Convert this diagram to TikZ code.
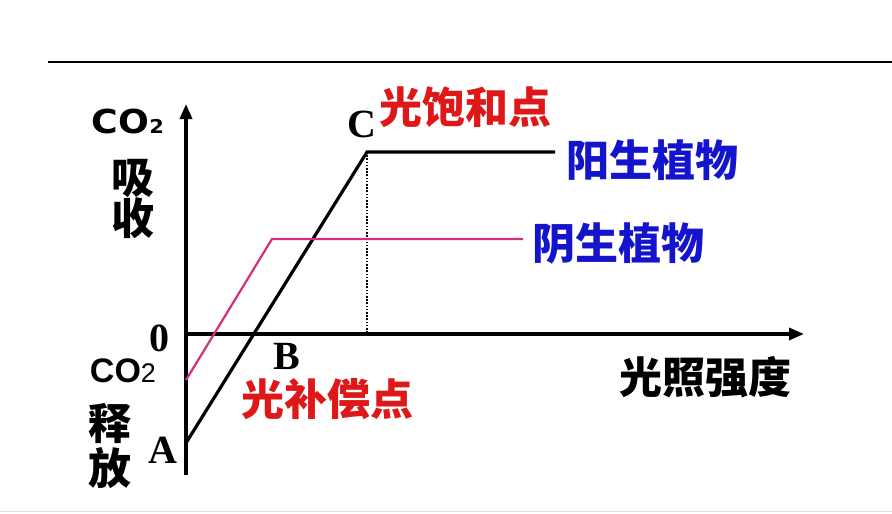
\documentclass[tikz,border=0pt]{standalone}
\usepackage{fontspec}
\setmainfont{Liberation Serif}
\newfontfamily\cjk{Noto Sans CJK SC}
\newfontfamily\arialf{Liberation Sans}
\newfontfamily\heavyf{DejaVu Sans}
\usetikzlibrary{arrows.meta}
\definecolor{redtxt}{RGB}{222,24,24}
\definecolor{bluetxt}{RGB}{20,20,205}
\definecolor{pinkline}{RGB}{215,45,125}
\tikzset{
  axis/.style={line width=3.3pt,-{Triangle[length=15pt,width=12pt]}},
  sunline/.style={line width=3.2pt,line join=miter},
  shadeline/.style={line width=2.2pt,pinkline},
  dotline/.style={line width=2pt,dash pattern=on 1.6pt off 1.6pt},
  cjklab/.style={inner sep=0pt,text height=37pt,text depth=4pt,font=\cjk\bfseries\fontsize{43}{43}\selectfont},
  serlab/.style={inner sep=0pt,text height=27pt,text depth=0pt,font=\bfseries\fontsize{40}{40}\selectfont},
  cotop/.style={inner sep=0pt,xscale=1.1,text height=24pt,text depth=0pt,font=\heavyf\bfseries\fontsize{33}{33}\selectfont},
  cobot/.style={inner sep=0pt,text height=24pt,text depth=0pt,font=\arialf\bfseries\fontsize{34}{34}\selectfont},
}
\begin{document}
\begin{tikzpicture}[x=1pt,y=-1pt]
\useasboundingbox (0,0) rectangle (892,514);
\fill[white] (0,0) rectangle (892,514);
\coordinate (L0) at (48,62);
\coordinate (L1) at (892,62);
\draw[line width=1.4pt] (L0) -- (L1);
\coordinate (B0) at (0,511);
\coordinate (B1) at (892,511);
\draw[line width=0.8pt,black!12] (B0) -- (B1);
% axes
\coordinate (O) at (186,334);
\coordinate (ytop) at (186,104);
\coordinate (ybot) at (186,475);
\coordinate (xend) at (804,334);
\draw[axis] (ybot) -- (ytop);
\draw[axis] (O) -- (xend);
% sun plant
\coordinate (A) at (186,443);
\coordinate (C) at (367,152);
\coordinate (Cend) at (555,152);
\coordinate (Cfoot) at (367,334);
\draw[dotline] (C) -- (Cfoot);
\draw[sunline] (A) -- (C) -- (Cend);
% shade plant
\coordinate (P0) at (186,380);
\coordinate (P1) at (272,239);
\coordinate (Pend) at (523,239);
\draw[shadeline] (P0) -- (P1) -- (Pend);
% labels
\node[cotop] (co1) at (128,121) {CO{\fontsize{19}{19}\selectfont 2}};
\node[cjklab] (xi) at (133,177) {吸};
\node[cjklab] (shou) at (133,218) {收};
\node[serlab] (zero) at (159,338) {0};
\node[cobot] (co2) at (123,370) {CO{\arialf\mdseries\fontsize{27}{27}\selectfont 2}};
\node[cjklab] (shi) at (110,423) {释};
\node[cjklab] (fang) at (110,468) {放};
\node[serlab] (la) at (163,450) {A};
\node[serlab] (lb) at (287,356) {B};
\node[serlab] (lc) at (362,124) {C};
\node[cjklab,redtxt] (comp) at (327,399) {光补偿点};
\node[cjklab,redtxt] (sat) at (465,107) {光饱和点};
\node[cjklab,bluetxt] (sun) at (652,160) {阳生植物};
\node[cjklab,bluetxt] (shade) at (618,243) {阴生植物};
\node[cjklab] (light) at (705,377) {光照强度};
\end{tikzpicture}
\end{document}
